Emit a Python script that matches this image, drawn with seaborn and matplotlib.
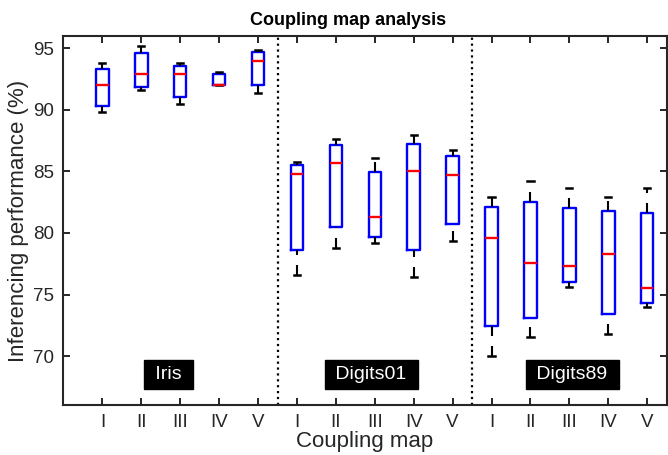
import numpy as np
import pandas as pd
import matplotlib
matplotlib.use("Agg")
import matplotlib.pyplot as plt
import seaborn as sns

# box statistics: whisker low, q1, median, q3, whisker high
maps = ["I", "II", "III", "IV", "V"]
datasets = ["Iris", "Digits01", "Digits89"]

iris_lo = [89.83, 91.59, 90.48, 92.02, 91.40]
iris_q1 = [90.32, 91.88, 91.07, 92.02, 92.02]
iris_med = [92.02, 92.91, 92.91, 92.02, 93.99]
iris_q3 = [93.34, 94.59, 93.59, 92.89, 94.70]
iris_hi = [93.81, 95.16, 93.78, 93.10, 94.86]

d01_lo = [76.60, 78.81, 79.20, 76.41, 79.36]
d01_q1 = [78.65, 80.52, 79.71, 78.60, 80.71]
d01_med = [84.77, 85.67, 81.31, 85.02, 84.74]
d01_q3 = [85.53, 87.15, 84.94, 87.23, 86.26]
d01_hi = [85.75, 87.64, 86.12, 87.99, 86.77]

d89_lo = [70.05, 71.59, 75.65, 71.79, 73.98]
d89_q1 = [72.46, 73.13, 76.06, 73.43, 74.35]
d89_med = [79.63, 77.60, 77.31, 78.33, 75.57]
d89_q3 = [82.09, 82.55, 82.06, 81.77, 81.63]
d89_hi = [82.91, 84.20, 83.66, 82.93, 83.64]

stats = {
    "Iris": [iris_lo, iris_q1, iris_med, iris_q3, iris_hi],
    "Digits01": [d01_lo, d01_q1, d01_med, d01_q3, d01_hi],
    "Digits89": [d89_lo, d89_q1, d89_med, d89_q3, d89_hi],
}

#%%
# long table: 5 points per box reproduce the quartiles exactly
rows = []
order = []
for ds in datasets:
    for i, m in enumerate(maps):
        key = f"{ds}-{m}"
        order.append(key)
        for arr in stats[ds]:
            rows.append({"box": key, "value": arr[i]})
df = pd.DataFrame(rows)

#%%
plt.rcParams["font.family"] = ["Liberation Sans", "DejaVu Sans"]
dark = "#262626"

fig = plt.figure(figsize=(6.68, 4.55), dpi=100)
ax = fig.add_axes([0.095, 0.109, 0.903, 0.812])

sns.boxplot(data=df, x="box", y="value", order=order, fill=False, width=0.32,
            whis=np.inf, showfliers=False, linewidth=1.7, ax=ax,
            boxprops=dict(color="blue", linewidth=1.7),
            medianprops=dict(color="red", linewidth=1.7),
            whiskerprops=dict(color="black", linewidth=1.5, linestyle=(0, (4.8, 4.8))),
            capprops=dict(color="black", linewidth=1.8))

# matlab draws whiskers bottom-up, so the dash pattern starts at the low end
for ln in ax.lines:
    if ln.get_linestyle() == "--":
        y = np.asarray(ln.get_ydata())
        if y[0] > y[-1]:
            ln.set_ydata(y[::-1])

ax.axvline(4.5, color="black", linestyle=":", linewidth=1.6)
ax.axvline(9.5, color="black", linestyle=":", linewidth=1.6)

label_x = [1.70, 6.91, 12.07]
for ds, lx in zip(datasets, label_x):
    ax.text(lx, 68.5, f" {ds} ", color="white", fontsize=14, ha="center", va="center",
            bbox=dict(facecolor="black", edgecolor="black", boxstyle="square,pad=0.3"))

ax.set_xlim(-1, 14.5)
ax.set_ylim(66, 96)
ax.set_xticks(range(15))
ax.set_xticklabels(maps * 3)
ax.set_yticks([70, 75, 80, 85, 90, 95])

ax.tick_params(direction="in", top=True, right=True, length=5, width=1.4,
               labelsize=13.5, color=dark, labelcolor=dark)
ax.tick_params(axis="x", pad=6)
ax.tick_params(axis="y", pad=7)
for sp in ax.spines.values():
    sp.set_linewidth(1.5)
    sp.set_color(dark)

ax.set_xlabel("Coupling map", fontsize=16, color=dark, labelpad=0)
ax.set_ylabel("Inferencing performance (%)", fontsize=16, color=dark, labelpad=3)
ax.set_title("Coupling map analysis", fontsize=13, fontweight="bold", pad=8, x=0.472)

plt.savefig("out.png", dpi=100)
